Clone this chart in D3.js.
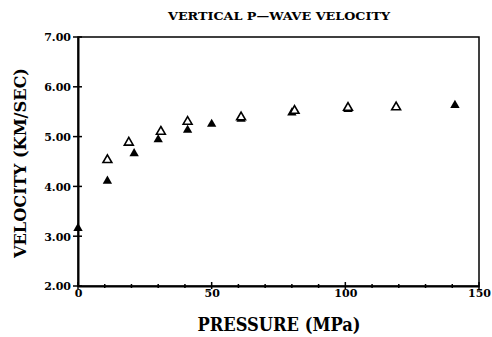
<!DOCTYPE html>
<html><head><meta charset="utf-8">
<script src="https://cdn.jsdelivr.net/npm/d3@7"></script>
<style>
body{margin:0;background:#fff;}
</style></head><body>
<svg id="c" width="492" height="337"></svg>
<script>
const title = "VERTICAL P\u2014WAVE VELOCITY";
const xLabel = "PRESSURE (MPa)";
const yLabel = "VELOCITY (KM/SEC)";
const xTicks = [0, 50, 100, 150];
const yTicks = [2, 3, 4, 5, 6, 7];
// open triangles
const openP = [11, 19, 31, 41, 61, 81, 101, 119];
const openV = [4.53, 4.88, 5.10, 5.30, 5.39, 5.52, 5.58, 5.59];
// filled triangles
const filledP = [0, 11, 21, 30, 41, 50, 61, 80, 101, 141];
const filledV = [3.16, 4.11, 4.66, 4.94, 5.13, 5.25, 5.35, 5.48, 5.55, 5.63];

const FONT = "'DejaVu Serif', 'Liberation Serif', serif";
const svg = d3.select("#c");
const L = 78, R = 479, T = 37, B = 286;
const x = d3.scaleLinear().domain([0, 150]).range([L, R]);
const y = d3.scaleLinear().domain([2, 7]).range([B, T]);

// frame
svg.append("rect").attr("x", L).attr("y", T).attr("width", R - L).attr("height", B - T)
  .attr("fill", "none").attr("stroke", "#000").attr("stroke-width", 1.5);

// bottom axis
const xAx = svg.append("g").attr("transform", `translate(0,${B})`)
  .call(d3.axisBottom(x).tickValues(xTicks).tickSize(0).tickPadding(3).tickFormat(d3.format("d")));
xAx.select(".domain").attr("stroke-width", 2);
xAx.selectAll("text").style("font-family", FONT).style("font-weight", "bold").style("font-size", "11px");
svg.append("g").selectAll("line").data(d3.range(0, 151, 10)).join("line")
  .attr("x1", d => x(d)).attr("x2", d => x(d))
  .attr("y1", d => d % 50 === 0 ? B - 4 : B - 2).attr("y2", d => d % 50 === 0 ? B + 3 : B + 2)
  .attr("stroke", "#000").attr("stroke-width", 1.5);

// left axis
const yAx = svg.append("g").attr("transform", `translate(${L},0)`)
  .call(d3.axisLeft(y).tickValues(yTicks).tickSize(0).tickPadding(7).tickFormat(d3.format(".2f")));
yAx.select(".domain").attr("stroke-width", 2);
yAx.selectAll("text").style("font-family", FONT).style("font-weight", "bold").style("font-size", "11px")
  .attr("dy", "0.35em");
svg.append("g").selectAll("line").data(yTicks).join("line")
  .attr("x1", L - 5).attr("x2", L + 4)
  .attr("y1", d => y(d)).attr("y2", d => y(d))
  .attr("stroke", "#000").attr("stroke-width", 1.5);

// markers
const tri = d3.symbol().type(d3.symbolTriangle);
svg.append("g").selectAll("path").data(filledP.map((p, i) => [p, filledV[i]])).join("path")
  .attr("d", tri.size(38)())
  .attr("transform", d => `translate(${x(d[0])},${y(d[1])})`)
  .attr("fill", "#000");
svg.append("g").selectAll("path").data(openP.map((p, i) => [p, openV[i]])).join("path")
  .attr("d", tri.size(34)())
  .attr("transform", d => `translate(${x(d[0])},${y(d[1])})`)
  .attr("fill", "#fff").attr("stroke", "#000").attr("stroke-width", 1.6);

// title & labels
function label(sel) { return sel.style("font-family", FONT).style("font-weight", "bold").attr("fill", "#000"); }
label(svg.append("text")).attr("x", 279).attr("y", 20).attr("text-anchor", "middle")
  .style("font-size", "11px").attr("textLength", 222).attr("lengthAdjust", "spacingAndGlyphs").text(title);
label(svg.append("text")).attr("x", 279).attr("y", 331).attr("text-anchor", "middle")
  .style("font-size", "18px").attr("textLength", 163).attr("lengthAdjust", "spacingAndGlyphs").text(xLabel);
label(svg.append("text")).attr("transform", `translate(26,163) rotate(-90)`)
  .attr("text-anchor", "middle").style("font-size", "17px")
  .attr("textLength", 190).attr("lengthAdjust", "spacingAndGlyphs").text(yLabel);
</script>
</body></html>
